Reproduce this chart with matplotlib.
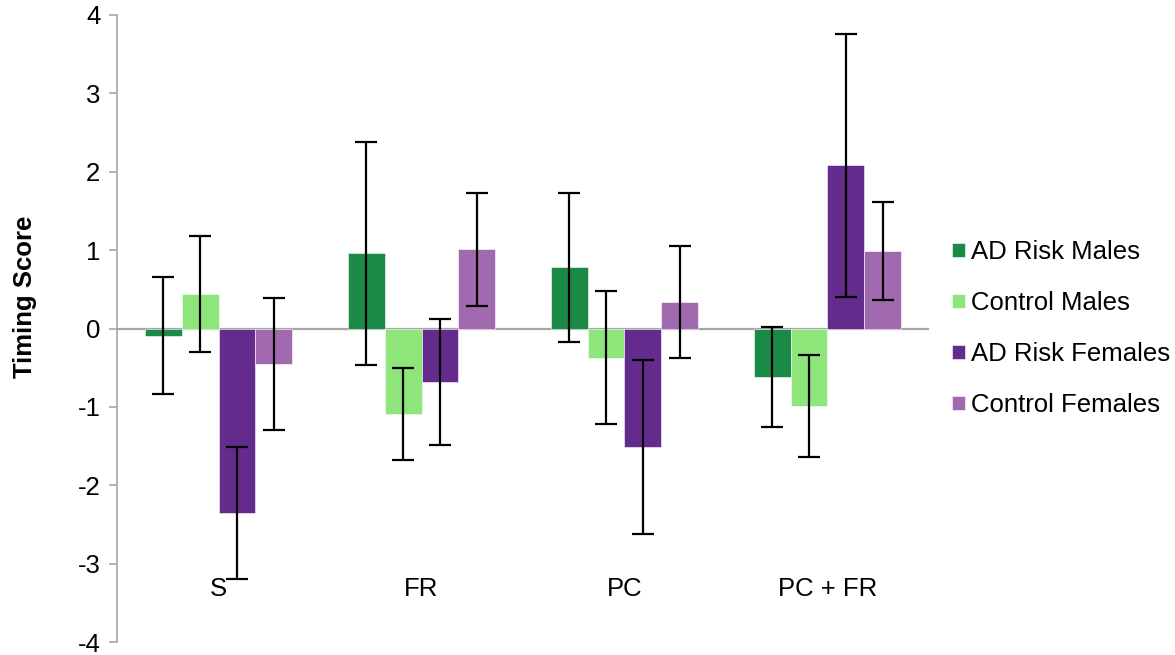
import numpy as np
import matplotlib
matplotlib.use("Agg")
import matplotlib.pyplot as plt

plt.rcParams['font.family'] = ['Liberation Sans', 'DejaVu Sans']
plt.rcParams['axes.unicode_minus'] = False

categories = ['S', 'FR', 'PC', 'PC + FR']
groups = ['AD Risk Males', 'Control Males', 'AD Risk Females', 'Control Females']
colors = ['#1b8a47', '#8ee57a', '#632b8c', '#a26aae']

# mean timing scores per group, one value per category
ad_males = [-0.09, 0.96, 0.78, -0.62]
ctrl_males = [0.44, -1.09, -0.37, -0.99]
ad_females = [-2.35, -0.68, -1.51, 2.08]
ctrl_females = [-0.45, 1.01, 0.34, 0.99]

# error bar half-widths
ad_males_err = [0.75, 1.42, 0.95, 0.64]
ctrl_males_err = [0.74, 0.59, 0.85, 0.65]
ad_females_err = [0.84, 0.80, 1.11, 1.68]
ctrl_females_err = [0.84, 0.72, 0.71, 0.63]

values = [ad_males, ctrl_males, ad_females, ctrl_females]
errors = [ad_males_err, ctrl_males_err, ad_females_err, ctrl_females_err]

fig = plt.figure(figsize=(11.75, 6.55), dpi=100)
ax = fig.add_axes([0.0996, 0.0198, 0.691, 0.9573])

x = np.arange(len(categories))
width = 0.182
for i, (vals, errs) in enumerate(zip(values, errors)):
    pos = x + (i - 1.5) * width
    ax.bar(pos, vals, width, color=colors[i], edgecolor='white', linewidth=0.4,
           label=groups[i], zorder=2)
    ax.errorbar(pos, vals, yerr=errs, fmt='none', ecolor='black',
                elinewidth=1.6, capsize=8, capthick=1.6, zorder=3)

ax.axhline(0, color='#a6a6a6', linewidth=1.6, zorder=1)

ax.set_xlim(-0.5, 3.5)
ax.set_ylim(-4, 4)
ax.set_yticks(range(-4, 5))
ax.set_xticks(x)
ax.set_xticklabels(categories, fontsize=18.5)
ax.tick_params(axis='x', length=0, pad=-47)
ax.tick_params(axis='y', labelsize=18.5, color='#a6a6a6', length=6, width=1.2, pad=6)

for side in ['top', 'right', 'bottom']:
    ax.spines[side].set_visible(False)
ax.spines['left'].set_color('#a6a6a6')
ax.spines['left'].set_linewidth(1.2)

ax.set_ylabel('Timing Score', fontsize=18.5, fontweight='bold')
ax.yaxis.set_label_coords(-0.099, 0.551)

ax.legend(loc='center left', bbox_to_anchor=(1.0, 0.5), frameon=False,
          fontsize=18.5, handlelength=0.5, handleheight=0.5,
          handletextpad=0.25, labelspacing=1.05, borderaxespad=0.5)

fig.savefig('out.png', dpi=100)
